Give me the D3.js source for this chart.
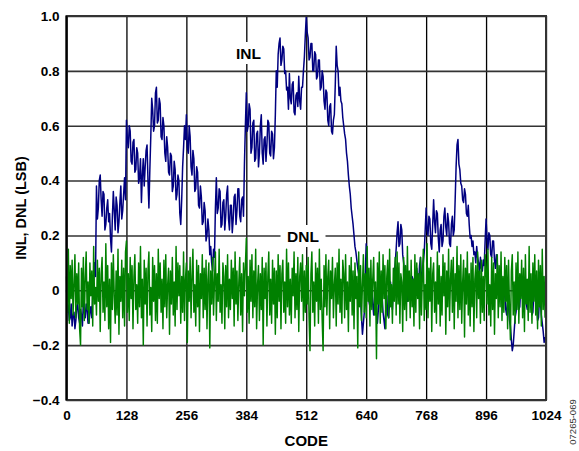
<!DOCTYPE html>
<html><head><meta charset="utf-8">
<script src="https://cdn.jsdelivr.net/npm/d3@7"></script>
<style>
html,body{margin:0;padding:0;background:#fff;}
svg{display:block;font-family:"Liberation Sans",Arial,sans-serif;}
</style></head>
<body><svg id="c" width="579" height="451"></svg>
<script>
// ---- data ----
const xTicks = [0,128,256,384,512,640,768,896,1024];
const yTicks = [-0.4,-0.2,0,0.2,0.4,0.6,0.8,1.0];
const INL_STEP = 2;   // code spacing of INL samples
const DNL_STEP = 2;   // code spacing of DNL samples
const inl = [
 0,-.04,-.06,-.11,-.1,-.05,-.13,-.09,-.08,-.14,-.11,-.06,-.05,-.1,-.12,-.07,-.09,-.13,-.04,-.08,-.1,-.05,-.07,-.12,-.12,-.08,-.06,-.1,-.02,.04,.1,.05,
 .38,.26,.3,.4,.42,.33,.27,.36,.35,.22,.24,.3,.33,.25,.28,.19,.14,.27,.36,.29,.22,.34,.31,.21,.25,.32,.38,.26,.29,.35,.41,.33,
 .62,.55,.52,.6,.58,.47,.46,.54,.55,.43,.44,.52,.5,.39,.41,.48,.32,.42,.48,.38,.45,.51,.53,.4,.3,.44,.56,.7,.66,.58,.6,.72,
 .74,.61,.62,.7,.68,.56,.55,.63,.6,.5,.47,.56,.52,.43,.42,.5,.49,.36,.38,.47,.44,.33,.35,.42,.4,.28,.24,.33,.45,.52,.6,.55,
 .64,.52,.5,.6,.56,.45,.42,.51,.48,.36,.37,.45,.43,.31,.3,.38,.34,.24,.25,.32,.29,.18,.2,.26,.22,.13,.16,.1,.07,.15,.12,.3,
 .41,.28,.3,.37,.36,.23,.24,.32,.33,.22,.27,.35,.38,.26,.22,.31,.31,.21,.26,.34,.35,.24,.29,.37,.37,.27,.25,.33,.34,.27,.46,.6,
 .72,.58,.6,.68,.66,.5,.52,.61,.62,.47,.48,.57,.58,.45,.5,.6,.64,.5,.46,.55,.56,.47,.53,.62,.61,.5,.49,.58,.57,.48,.52,.64,
 .8,.74,.86,.9,.92,.82,.84,.89,.88,.79,.8,.73,.74,.66,.79,.7,.68,.75,.76,.65,.64,.71,.72,.67,.78,.69,.66,.74,.74,.8,.85,.93,
 1.0,.94,.92,.84,.85,.9,.9,.8,.8,.87,.86,.77,.78,.84,.84,.73,.74,.8,.78,.69,.66,.73,.72,.62,.6,.67,.68,.58,.57,.62,.64,.75,
 .89,.82,.8,.71,.74,.69,.68,.63,.6,.57,.55,.5,.47,.42,.38,.35,.3,.27,.24,.2,.16,.14,.11,.08,.06,.01,-.03,-.1,-.16,-.12,-.08,.05,
 .17,.08,.02,-.04,-.06,.01,.04,-.05,-.09,-.03,.01,-.08,-.12,-.07,-.03,.03,.05,-.02,-.08,-.11,-.14,-.06,-.02,-.09,-.1,-.04,.03,-.03,-.07,.01,.06,.1,
 .15,.21,.25,.16,.17,.24,.22,.13,.1,.06,.03,-.02,-.04,.02,.06,-.01,-.02,.05,.04,-.03,-.05,.02,.08,.03,.02,.09,.12,.04,.05,.1,.14,.22,
 .3,.22,.2,.27,.26,.17,.15,.24,.33,.25,.21,.29,.28,.19,.14,.22,.24,.16,.18,.27,.3,.23,.2,.28,.25,.17,.16,.24,.27,.2,.22,.33,
 .45,.53,.55,.46,.44,.39,.38,.33,.32,.37,.35,.28,.27,.31,.24,.19,.2,.16,.18,.13,.14,.1,.16,.12,.1,.06,.12,.08,.07,.11,.09,.18,
 .26,.19,.15,.21,.2,.13,.12,.18,.18,.11,.08,.13,.1,.03,.02,.07,.05,-.02,-.04,.01,-.02,-.07,-.09,-.04,-.06,-.11,-.13,-.18,-.22,-.2,-.15,-.1,
 -.08,-.03,-.02,-.07,-.06,.01,.03,-.02,-.04,.02,.01,-.05,-.07,.02,.04,-.03,-.03,-.09,-.08,-.01,.02,-.04,-.05,-.11,-.1,-.03,-.04,-.09,-.12,-.15,-.19,-.17
];
const dnl = [
 .05,-.08,.15,-.12,.09,-.03,.11,-.09,.02,.13,-.1,.06,-.05,.1,-.14,-.2,
 .08,-.06,.12,-.11,.04,.14,-.07,.03,-.12,.1,-.02,.07,-.13,.16,-.05,.01,
 -.09,.11,-.04,.08,-.15,.06,.12,-.08,.03,-.11,.17,-.06,.09,-.14,.04,-.19,
 .1,-.07,.13,-.02,-.12,.07,-.09,.15,-.16,.05,-.04,.11,-.1,.08,-.13,.14,
 .18,-.08,.06,-.11,.12,-.03,.09,-.14,.05,.13,-.07,.02,-.12,.1,-.06,.16,
 -.1,.04,-.2,.11,-.05,.08,-.13,.07,.14,-.09,.01,-.15,.12,-.04,.09,-.11,
 .06,-.12,.15,-.03,.1,-.08,.04,-.14,.11,-.06,.13,-.1,.02,.08,-.16,.07,
 -.05,.12,-.09,.03,-.13,.16,-.07,.1,-.02,.09,-.12,.05,-.08,.14,-.11,.04,
 .1,-.19,.07,-.04,.12,-.1,.05,.15,-.08,.02,-.13,.11,-.06,.09,-.15,.06,
 -.03,.13,-.1,.08,-.07,.11,-.14,.04,.1,-.21,.07,-.05,.12,-.09,.03,.14,
 -.11,.06,-.04,.15,-.08,.02,-.12,.1,.05,-.14,.09,-.06,.13,-.1,.04,-.07,
 .11,-.03,.08,-.13,.14,-.05,.07,-.11,.03,.12,-.09,.06,-.15,.1,-.02,.09,
 .19,-.08,.05,-.12,.11,-.04,.13,-.1,.07,-.06,.15,-.14,.02,.09,-.11,.06,
 -.07,.12,-.2,.08,-.03,.1,-.13,.05,.14,-.09,.04,-.12,.11,-.05,.08,-.16,
 .07,-.1,.13,-.04,.09,-.14,.06,.11,-.08,.03,-.12,.15,-.06,.1,-.09,.04,
 -.12,.08,-.02,.14,-.1,.06,-.07,.12,-.15,.05,.1,-.04,.13,-.11,.07,-.08,
 .09,-.05,.12,-.1,-.22,.06,.14,-.08,.03,-.13,.1,-.04,.08,-.12,.15,-.07,
 .04,-.11,-.22,.09,-.06,.13,-.09,.05,.11,-.14,.07,-.03,.12,-.1,.02,.08,
 -.13,.1,-.05,.15,-.08,.04,-.12,.11,.06,-.1,.13,-.07,.03,-.15,.09,-.04,
 .12,-.09,.07,-.14,.1,-.03,.05,-.21,.14,-.06,.09,-.11,.02,.13,-.08,.06,
 -.1,.16,-.04,.08,-.13,.11,-.07,.04,.12,-.09,.03,-.25,.1,-.05,.14,-.12,
 .07,-.08,.13,-.03,.09,-.14,.05,.11,-.1,.15,-.06,.02,-.12,.08,-.04,.12,
 -.09,.14,-.05,.1,-.12,.06,.03,-.15,.12,-.07,.09,-.11,.16,-.04,.07,-.1,
 .11,-.06,.04,-.13,.13,-.08,.1,-.03,.06,-.14,.12,-.09,.05,.15,-.11,.02,
 -.07,.17,-.1,.08,-.04,.12,-.15,.06,.1,-.08,.03,-.12,.14,-.05,.09,-.13,
 .05,-.09,.13,-.02,.1,-.16,.07,-.06,.15,-.11,.04,.11,-.08,.12,-.14,.06,
 -.04,.16,-.1,.09,-.07,.13,-.12,.03,.11,-.17,.08,-.05,.14,-.09,.06,-.13,
 .1,-.06,.12,-.15,.04,.09,-.1,.14,-.03,.07,-.12,.11,-.08,.05,-.11,.13,
 .08,-.05,.15,-.09,.02,-.13,.12,-.07,.1,-.16,.06,-.03,.13,-.1,.09,-.06,
 .14,-.11,.05,-.08,.12,-.04,.09,-.14,.11,-.06,-.18,.07,.13,-.09,.03,-.12,
 .1,-.07,.14,-.12,.06,-.03,.11,-.1,.08,-.15,.13,-.05,.04,-.11,.16,-.08,
 .06,-.12,.1,-.04,.13,-.09,.07,-.14,.11,-.06,.09,-.13,.15,-.07,.05,-.1
];

// ---- layout ----
const svg = d3.select("#c");
const L = 66.5, R = 546, T = 16, B = 400;
const x = d3.scaleLinear().domain([0,1024]).range([L,R]);
const y = d3.scaleLinear().domain([-0.4,1.0]).range([B,T]);

// grid
svg.append("g").attr("transform",`translate(0,${B})`)
  .call(d3.axisBottom(x).tickValues(xTicks).tickSize(-(B-T)).tickFormat(""))
  .call(g=>{g.select(".domain").remove();
    g.selectAll("line").attr("stroke","#000").attr("stroke-width",1.3);});
svg.append("g").attr("transform",`translate(${L},0)`)
  .call(d3.axisLeft(y).tickValues(yTicks).tickSize(-(R-L)).tickFormat(""))
  .call(g=>{g.select(".domain").remove();
    g.selectAll("line").attr("stroke","#333").attr("stroke-width",1.6);});

// data
const lineI = d3.line().x((d,i)=>x(i*INL_STEP)).y(d=>y(d));
const lineD = d3.line().x((d,i)=>x(i*DNL_STEP)).y(d=>y(d));
svg.append("path").datum(inl).attr("d",lineI)
  .attr("fill","none").attr("stroke","#000080").attr("stroke-width",1.5).attr("stroke-linejoin","round");
svg.append("path").datum(dnl).attr("d",lineD)
  .attr("fill","none").attr("stroke","#008000").attr("stroke-width",1.45).attr("stroke-linejoin","round");

// frame
svg.append("rect").attr("x",L).attr("y",T).attr("width",R-L).attr("height",B-T)
  .attr("fill","none").attr("stroke","#333").attr("stroke-width",2);
svg.append("line").attr("x1",L).attr("x2",L).attr("y1",T).attr("y2",B)
  .attr("stroke","#000").attr("stroke-width",2);

// tick labels
const fmt = d => d===0 ? "0" : d3.format(".1f")(d);
svg.append("g").attr("transform",`translate(${L},0)`)
  .call(d3.axisLeft(y).tickValues(yTicks).tickSize(0).tickPadding(7).tickFormat(fmt))
  .call(g=>{g.select(".domain").remove();
    g.selectAll("text").attr("font-family","Liberation Sans, Arial, sans-serif")
     .attr("font-size",13.5).attr("font-weight","bold").attr("fill","#000");});
svg.append("g").attr("transform",`translate(0,${B})`)
  .call(d3.axisBottom(x).tickValues(xTicks).tickSize(0).tickPadding(10).tickFormat(d3.format("d")))
  .call(g=>{g.select(".domain").remove();
    g.selectAll("text").attr("font-family","Liberation Sans, Arial, sans-serif")
     .attr("font-size",13.5).attr("font-weight","bold").attr("fill","#000");});

// axis titles
svg.append("text").attr("x",(L+R)/2).attr("y",446).attr("text-anchor","middle")
  .attr("font-size",15).attr("font-weight","bold").text("CODE");
svg.append("text").attr("transform",`translate(26,${(T+B)/2}) rotate(-90)`)
  .attr("text-anchor","middle").attr("font-size",14.5).attr("font-weight","bold")
  .text("INL, DNL (LSB)");

// series labels with white backing
function label(txt,cx,base,bw){
  svg.append("rect").attr("x",cx-bw/2).attr("y",base-17).attr("width",bw).attr("height",22).attr("fill","#fff");
  svg.append("text").attr("x",cx).attr("y",base).attr("text-anchor","middle")
    .attr("font-size",15.5).attr("font-weight","bold").text(txt);
}
label("INL",248.5,59,30);
label("DNL",303,242,45);

// figure id
svg.append("text").attr("transform","translate(576,422) rotate(-90)")
  .attr("text-anchor","middle").attr("font-size",9.5).attr("fill","#333").text("07265-069");
</script></body></html>
